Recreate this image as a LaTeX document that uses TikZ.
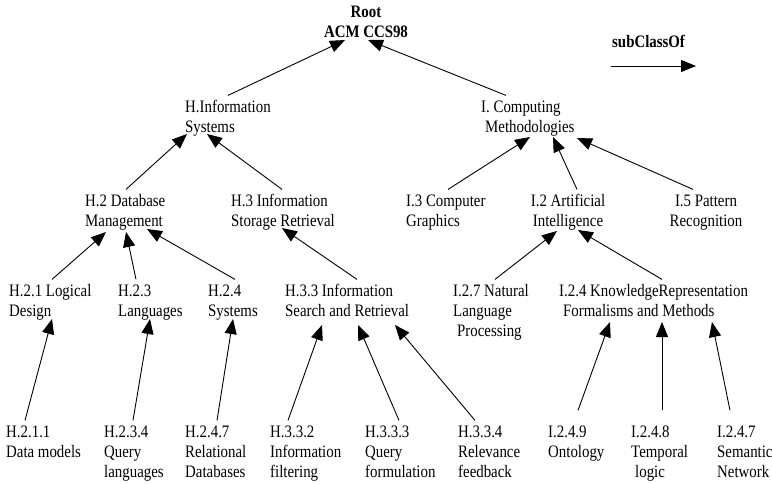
\documentclass[tikz,border=0pt]{standalone}
\usepackage{fontspec}
\setmainfont{Liberation Serif}[FakeStretch=0.85]
\usetikzlibrary{arrows.meta}

\begin{document}
\begin{tikzpicture}[
  x=1pt, y=-1pt,
  cls/.style={anchor=north west, align=left, inner xsep=0pt, inner ysep=5pt,
    font=\fontsize{17.5}{20}\selectfont},
  clsc/.style={cls, anchor=north, align=center},
  headtext/.style={clsc, font=\fontsize{17.5}{20}\selectfont\bfseries},
  arrow/.style={-{Triangle[length=15pt, width=12pt]}, line width=0.9pt}
]
\useasboundingbox (0,0) rectangle (772,483);

\node[headtext] (root) at (366,0.4) {Root\\ACM CCS98};
\node[headtext, anchor=north west] (sub) at (612,29.9) {subClassOf};
\coordinate (legA) at (611,66);
\coordinate (legB) at (696,66);
\draw[arrow] (legA) -- (legB);

% first level
\node[cls] (hinfo) at (185,95.4) {H.Information\\Systems};
\node[cls] (icomp) at (481,95.4) {I. Computing\\\hspace*{4pt}Methodologies};

% second level
\node[cls] (h2) at (85,189.4) {H.2 Database\\Management};
\node[cls] (h3) at (231,189.4) {H.3 Information\\Storage Retrieval};
\node[cls] (i3) at (406,189.4) {I.3 Computer\\Graphics};
\node[clsc] (i2) at (568,189.4) {I.2 Artificial\\Intelligence};
\node[clsc] (i5) at (706,189.4) {I.5 Pattern\\Recognition};

% third level
\node[cls] (h21) at (9,279.4) {H.2.1 Logical\\Design};
\node[cls] (h23) at (118,279.4) {H.2.3\\Languages};
\node[cls] (h24) at (208,279.4) {H.2.4\\Systems};
\node[cls] (h33) at (285,279.4) {H.3.3 Information\\Search and Retrieval};
\node[cls] (i27) at (453,279.4) {I.2.7 Natural\\Language\\\hspace*{4pt}Processing};
\node[cls] (i24) at (559,279.4) {I.2.4 KnowledgeRepresentation\\\hspace*{4pt}Formalisms and Methods};

% leaves
\node[cls] (h211) at (6,420.4) {H.2.1.1\\Data models};
\node[cls] (h234) at (104,420.4) {H.2.3.4\\Query\\languages};
\node[cls] (h247) at (185,420.4) {H.2.4.7\\Relational\\Databases};
\node[cls] (h332) at (270,420.4) {H.3.3.2\\Information\\filtering};
\node[cls] (h333) at (365,420.4) {H.3.3.3\\Query\\formulation};
\node[cls] (h334) at (458,420.4) {H.3.3.4\\Relevance\\feedback};
\node[cls] (i249) at (548,420.4) {I.2.4.9\\Ontology};
\node[cls] (i248) at (631,420.4) {I.2.4.8\\Temporal\\\hspace*{4pt}logic};
\node[cls] (i247) at (717,420.4) {I.2.4.7\\Semantic\\Network};

\draw[arrow] ([xshift=43pt]hinfo.north west) -- ([shift={(-21pt,-39.6pt)}]root.north);
\draw[arrow] ([xshift=25pt]icomp.north west) -- ([shift={(2pt,-39.6pt)}]root.north);
\draw[arrow] ([xshift=41pt]h2.north west) -- ([shift={(2pt,-38.6pt)}]hinfo.north west);
\draw[arrow] ([xshift=51pt]h3.north west) -- ([shift={(22pt,-38.6pt)}]hinfo.north west);
\draw[arrow] ([xshift=42pt]i3.north west) -- ([shift={(49pt,-41.6pt)}]icomp.north west);
\draw[arrow] ([xshift=9pt]i2.north) -- ([shift={(72pt,-41.6pt)}]icomp.north west);
\draw[arrow] ([xshift=-13pt]i5.north) -- ([shift={(96pt,-42.6pt)}]icomp.north west);
\draw[arrow] ([xshift=43pt]h21.north west) -- ([shift={(21pt,-42.6pt)}]h2.north west);
\draw[arrow] ([xshift=18pt]h23.north west) -- ([shift={(41pt,-42.6pt)}]h2.north west);
\draw[arrow] ([xshift=27pt]h24.north west) -- ([shift={(62pt,-39.6pt)}]h2.north west);
\draw[arrow] ([xshift=72pt]h33.north west) -- ([shift={(51pt,-38.6pt)}]h3.north west);
\draw[arrow] ([xshift=42pt]i27.north west) -- ([shift={(-11pt,-41.6pt)}]i2.north);
\draw[arrow] ([xshift=103pt]i24.north west) -- ([shift={(10pt,-40.6pt)}]i2.north);
\draw[arrow] ([xshift=19pt]h211.north west) -- ([shift={(43pt,-39.6pt)}]h21.north west);
\draw[arrow] ([xshift=29pt]h234.north west) -- ([shift={(32pt,-39.6pt)}]h23.north west);
\draw[arrow] ([xshift=32pt]h247.north west) -- ([shift={(25pt,-39.6pt)}]h24.north west);
\draw[arrow] ([xshift=18pt]h332.north west) -- ([shift={(37pt,-45.6pt)}]h33.north west);
\draw[arrow] ([xshift=34pt]h333.north west) -- ([shift={(73pt,-45.6pt)}]h33.north west);
\draw[arrow] ([xshift=17pt]h334.north west) -- ([shift={(110pt,-45.6pt)}]h33.north west);
\draw[arrow] ([shift={(30pt,10pt)}]i249.north west) -- ([shift={(51pt,-42.6pt)}]i24.north west);
\draw[arrow] ([shift={(31pt,10pt)}]i248.north west) -- ([shift={(103pt,-42.6pt)}]i24.north west);
\draw[arrow] ([shift={(13pt,10pt)}]i247.north west) -- ([shift={(153pt,-42.6pt)}]i24.north west);
\end{tikzpicture}
\end{document}
